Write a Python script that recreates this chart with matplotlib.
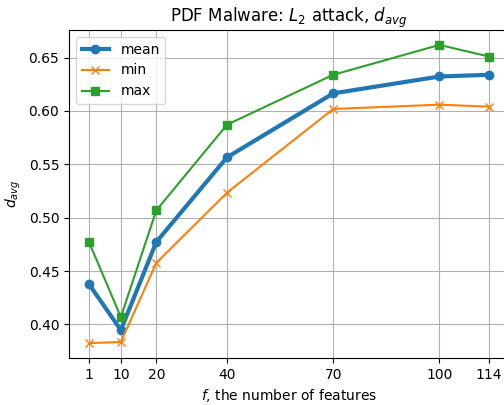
import numpy as np
import matplotlib.pyplot as plt

features = [1, 10, 20, 40, 70, 100, 114]
d_mean = [0.4377, 0.3947, 0.4772, 0.5566, 0.6165, 0.6323, 0.6339]
d_min = [0.3825, 0.3835, 0.4576, 0.5235, 0.6019, 0.6059, 0.6040]
d_max = [0.4772, 0.4068, 0.5068, 0.5872, 0.6339, 0.6619, 0.6510]

fig = plt.figure(figsize=(5.04, 4.05), dpi=100)
ax = fig.add_axes([69 / 504, 47 / 405, 440 / 504, 328 / 405])

ax.plot(features, d_mean, marker='o', linewidth=3, label='mean')
ax.plot(features, d_min, marker='x', label='min')
ax.plot(features, d_max, marker='s', label='max')

ax.set_xticks(features)
ax.grid(True)
ax.set_title(r'PDF Malware: $L_2$ attack, $d_{avg}$')
ax.set_xlabel(r'$f$, the number of features')
ax.set_ylabel(r'$d_{avg}$')
ax.legend(loc='upper left')

fig.savefig('out.png', dpi=100)
